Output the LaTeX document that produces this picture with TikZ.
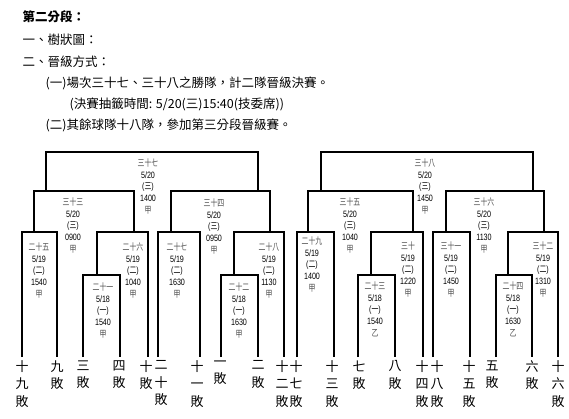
\documentclass[tikz,border=0pt]{standalone}
\usepackage{fontspec}
\newfontfamily\cjk{Noto Sans CJK TC}
\newfontfamily\lblcjk[FakeStretch=0.75]{Noto Sans CJK TC}
\newfontfamily\lblnum[FakeStretch=0.78]{Liberation Sans}
\newcommand\gamelbl[5]{{\lblcjk\color{black!70}#1}\\#2\\({\lblcjk #3})\\#4\\{\lblcjk\color{black!70}#5}}

\begin{document}
\begin{tikzpicture}[x=1pt,y=-1pt,line width=1.1pt,
  head/.style={anchor=west,inner sep=0,font=\cjk\fontsize{12.5}{15}\selectfont},
  game/.style={anchor=north,align=center,inner sep=0,font=\lblnum\fontsize{9.2}{11.8}\selectfont},
  lose/.style={anchor=north,align=center,inner xsep=0,inner ysep=3pt,font=\cjk\fontsize{13}{17.5}\selectfont}]
\useasboundingbox (0,0) rectangle (569,419);

\node[head,font=\cjk\bfseries\fontsize{12.5}{15}\selectfont] (title) at (22,17) {第二分段：};
\node[head] (item1) at (22,40) {一、樹狀圖：};
\node[head] (item2) at (22,62) {二、晉級方式：};
\node[head] (rule1) at (45,83) {(一)場次三十七、三十八之勝隊，計二隊晉級決賽。};
\node[head] (draw1) at (69,104) {(決賽抽籤時間: 5/20(三)15:40(技委席))};
\node[head] (rule2) at (45,125) {(二)其餘球隊十八隊，參加第三分段晉級賽。};

% top lines of the brackets
\coordinate (m37l) at (46,152);  \coordinate (m37r) at (258,152);
\coordinate (m38l) at (321,152); \coordinate (m38r) at (533,152);
\coordinate (m33l) at (34,191);  \coordinate (m33r) at (134,191);
\coordinate (m34l) at (171,191); \coordinate (m34r) at (270,191);
\coordinate (m35l) at (308,191); \coordinate (m35r) at (413,191);
\coordinate (m36l) at (446,191); \coordinate (m36r) at (544,191);
\coordinate (m25l) at (22,232);  \coordinate (m25r) at (57,232);
\coordinate (m26l) at (97,232);  \coordinate (m26r) at (148,232);
\coordinate (m27l) at (158,232); \coordinate (m27r) at (200,232);
\coordinate (m28l) at (234,232); \coordinate (m28r) at (284,232);
\coordinate (m29l) at (297,232); \coordinate (m29r) at (334,232);
\coordinate (m30l) at (371,232); \coordinate (m30r) at (423,232);
\coordinate (m31l) at (433,232); \coordinate (m31r) at (470,232);
\coordinate (m32l) at (508,232); \coordinate (m32r) at (558,232);
\coordinate (m21l) at (83,275);  \coordinate (m21r) at (120,275);
\coordinate (m22l) at (221,275); \coordinate (m22r) at (258,275);
\coordinate (m23l) at (358,275); \coordinate (m23r) at (395,275);
\coordinate (m24l) at (496,275); \coordinate (m24r) at (532,275);

\node[game] (g37) at (148,158) {\gamelbl{三十七}{5/20}{三}{1400}{甲}};
\node[game] (g38) at (425,158) {\gamelbl{三十八}{5/20}{三}{1450}{甲}};
\node[game] (g33) at (73,197) {\gamelbl{三十三}{5/20}{三}{0900}{甲}};
\node[game] (g34) at (214,198) {\gamelbl{三十四}{5/20}{三}{0950}{甲}};
\node[game] (g35) at (350,197) {\gamelbl{三十五}{5/20}{三}{1040}{甲}};
\node[game] (g36) at (484,197) {\gamelbl{三十六}{5/20}{三}{1130}{甲}};
\node[game] (g25) at (39,242) {\gamelbl{二十五}{5/19}{二}{1540}{甲}};
\node[game] (g26) at (133,242) {\gamelbl{二十六}{5/19}{二}{1040}{甲}};
\node[game] (g27) at (177,242) {\gamelbl{二十七}{5/19}{二}{1630}{甲}};
\node[game] (g28) at (269,242) {\gamelbl{二十八}{5/19}{二}{1130}{甲}};
\node[game] (g29) at (312,236) {\gamelbl{二十九}{5/19}{二}{1400}{甲}};
\node[game] (g30) at (408,241) {\gamelbl{三十}{5/19}{二}{1220}{甲}};
\node[game] (g31) at (451,241) {\gamelbl{三十一}{5/19}{二}{1450}{甲}};
\node[game] (g32) at (543,241) {\gamelbl{三十二}{5/19}{二}{1310}{甲}};
\node[game] (g21) at (103,282) {\gamelbl{二十一}{5/18}{一}{1540}{甲}};
\node[game] (g22) at (239,282) {\gamelbl{二十二}{5/18}{一}{1630}{甲}};
\node[game] (g23) at (375,281) {\gamelbl{二十三}{5/18}{一}{1540}{乙}};
\node[game] (g24) at (513,281) {\gamelbl{二十四}{5/18}{一}{1630}{乙}};

% losers
\node[lose] (l19) at (22,357) {十\\九\\敗};
\node[lose] (l9) at (57,357) {九\\敗};
\node[lose] (l3) at (83,357) {三\\敗};
\node[lose] (l4) at (119,357) {四\\敗};
\node[lose] (l10) at (146,357) {十\\敗};
\node[lose] (l20) at (161,357) {二\\十\\敗};
\node[lose] (l11) at (197,357) {十\\一\\敗};
\node[lose] (l1) at (220,357) {一\\敗};
\node[lose] (l2) at (258,357) {二\\敗};
\node[lose] (l12) at (282,357) {十\\二\\敗};
\node[lose] (l17) at (296,357) {十\\七\\敗};
\node[lose] (l13) at (332,357) {十\\三\\敗};
\node[lose] (l7) at (359,357) {七\\敗};
\node[lose] (l8) at (395,357) {八\\敗};
\node[lose] (l14) at (422,357) {十\\四\\敗};
\node[lose] (l18) at (437,357) {十\\八\\敗};
\node[lose] (l15) at (469,357) {十\\五\\敗};
\node[lose] (l5) at (492,357) {五\\敗};
\node[lose] (l6) at (532,357) {六\\敗};
\node[lose] (l16) at (558,357) {十\\六\\敗};

\draw (m37l |- m33l) -- (m37l) -- (m37r) -- (m37r |- m34l);
\draw (m38l |- m35l) -- (m38l) -- (m38r) -- (m38r |- m36l);
\draw (m33l |- m25l) -- (m33l) -- (m33r) -- (m33r |- m26l);
\draw (m34l |- m27l) -- (m34l) -- (m34r) -- (m34r |- m28l);
\draw (m35l |- m29l) -- (m35l) -- (m35r) -- (m35r |- m30l);
\draw (m36l |- m31l) -- (m36l) -- (m36r) -- (m36r |- m32l);
\draw (m25l |- l19.north) -- (m25l) -- (m25r) -- (m25r |- l9.north);
\draw (m26l |- m21l) -- (m26l) -- (m26r) -- (m26r |- l10.north);
\draw (m27l |- l20.north) -- (m27l) -- (m27r) -- (m27r |- l11.north);
\draw (m28l |- m22l) -- (m28l) -- (m28r) -- (m28r |- l12.north);
\draw (m29l |- l17.north) -- (m29l) -- (m29r) -- (m29r |- l13.north);
\draw (m30l |- m23l) -- (m30l) -- (m30r) -- (m30r |- l14.north);
\draw (m31l |- l18.north) -- (m31l) -- (m31r) -- (m31r |- l15.north);
\draw (m32l |- m24l) -- (m32l) -- (m32r) -- (m32r |- l16.north);
\draw (m21l |- l3.north) -- (m21l) -- (m21r) -- (m21r |- l4.north);
\draw (m22l |- l1.north) -- (m22l) -- (m22r) -- (m22r |- l2.north);
\draw (m23l |- l7.north) -- (m23l) -- (m23r) -- (m23r |- l8.north);
\draw (m24l |- l5.north) -- (m24l) -- (m24r) -- (m24r |- l6.north);
\end{tikzpicture}
\end{document}
